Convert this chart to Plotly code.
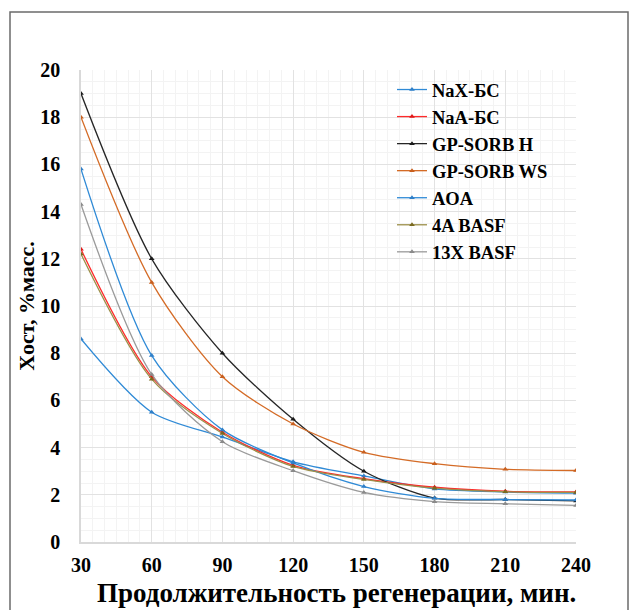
import plotly.graph_objects as go

minutes = [30, 60, 90, 120, 150, 180, 210, 240]

series_names = ["NaX-БС", "NaA-БС", "GP-SORB H", "GP-SORB WS", "AOA", "4A BASF", "13X BASF"]
nax_bs = [8.6, 5.5, 4.45, 3.4, 2.8, 2.25, 2.12, 2.07]
naa_bs = [12.4, 7.0, 4.65, 3.25, 2.68, 2.32, 2.15, 2.12]
gp_sorb_h = [19.0, 12.0, 8.0, 5.2, 3.0, 1.86, 1.8, 1.74]
gp_sorb_ws = [18.0, 11.0, 7.0, 5.0, 3.8, 3.32, 3.08, 3.03]
aoa = [15.8, 7.9, 4.75, 3.35, 2.35, 1.85, 1.8, 1.78]
basf_4a = [12.2, 6.9, 4.6, 3.2, 2.65, 2.28, 2.13, 2.1]
basf_13x = [14.3, 7.1, 4.25, 3.02, 2.1, 1.71, 1.62, 1.55]

series_values = [nax_bs, naa_bs, gp_sorb_h, gp_sorb_ws, aoa, basf_4a, basf_13x]
line_colors = ["#2f8ad6", "#ff2a2a", "#262626", "#d46b26", "#2f8ad6", "#9c8f4a", "#9a9a9a"]
marker_colors = ["#2f7fc8", "#e01818", "#1a1a1a", "#c85f1e", "#2f7fc8", "#7a6a20", "#8a8a8a"]

x_ticks = [30, 60, 90, 120, 150, 180, 210, 240]
y_ticks = [0, 2, 4, 6, 8, 10, 12, 14, 16, 18, 20]
x_title = "Продолжительность регенерации, мин."
y_title = "Xост, %масс."

fig = go.Figure()
for i, (name, vals) in enumerate(zip(series_names, series_values)):
    fig.add_trace(go.Scatter(
        x=minutes, y=vals, name=name, mode="lines+markers",
        line=dict(color=line_colors[i], width=1.3, shape="spline", smoothing=0.8),
        marker=dict(symbol="triangle-up", size=5, color=marker_colors[i]),
        legendgroup=f"g{i}",
    ))

FONT = "Liberation Serif"
L, R, T, B = 81, 576, 70, 542
W, H = 630, 610

def px_to_paper_x(px):
    return (px - L) / (R - L)

def px_to_paper_y(py):
    return (B - py) / (B - T)

fig.update_layout(
    width=W, height=H,
    margin=dict(l=L, r=W - R, t=T, b=H - B, autoexpand=False),
    paper_bgcolor="white", plot_bgcolor="white",
    font=dict(family=FONT, color="black"),
    showlegend=True,
    legend=dict(
        x=px_to_paper_x(392), y=px_to_paper_y(71), xanchor="left", yanchor="top",
        bgcolor="rgba(0,0,0,0)", font=dict(family=FONT, size=18.5, color="black", weight="bold"),
        tracegroupgap=0, itemwidth=30,
    ),
    xaxis=dict(
        range=[30, 240], tickvals=x_ticks, ticktext=[str(v) for v in x_ticks],
        automargin=False,
        showgrid=True, gridcolor="#e2e2e2", gridwidth=1,
        minor=dict(dtick=5, showgrid=True, gridcolor="#f3f3f3"),
        showline=True, linecolor="#d9d9d9", linewidth=1.5, zeroline=False,
        tickfont=dict(family=FONT, size=20, color="black", weight="bold"),
        ticklabelstandoff=4,
    ),
    yaxis=dict(
        range=[0, 20], tickvals=y_ticks, ticktext=[str(v) for v in y_ticks],
        automargin=False,
        showgrid=True, gridcolor="#e2e2e2", gridwidth=1,
        minor=dict(dtick=0.5, showgrid=True, gridcolor="#f3f3f3"),
        showline=True, linecolor="#d9d9d9", linewidth=1.5, zeroline=False,
        tickfont=dict(family=FONT, size=20, color="black", weight="bold"),
        ticklabelstandoff=15,
        title=dict(text=y_title,
                   font=dict(family=FONT, size=22, color="black", weight="bold"), standoff=0),
    ),
    annotations=[dict(
        text=x_title, xref="paper", yref="paper",
        x=px_to_paper_x(336), y=px_to_paper_y(593), xanchor="center", yanchor="middle",
        showarrow=False, font=dict(family=FONT, size=27, color="black", weight="bold"),
    )],
    shapes=[dict(
        type="rect", xref="paper", yref="paper",
        x0=px_to_paper_x(10), x1=px_to_paper_x(628),
        y0=px_to_paper_y(640), y1=px_to_paper_y(12),
        line=dict(color="#6b6b6b", width=1.5), fillcolor="rgba(0,0,0,0)", layer="below",
    )],
)

fig.write_html("out.html", config={"displayModeBar": False},
               post_script="document.body.style.margin='0';document.body.style.overflow='hidden';")
